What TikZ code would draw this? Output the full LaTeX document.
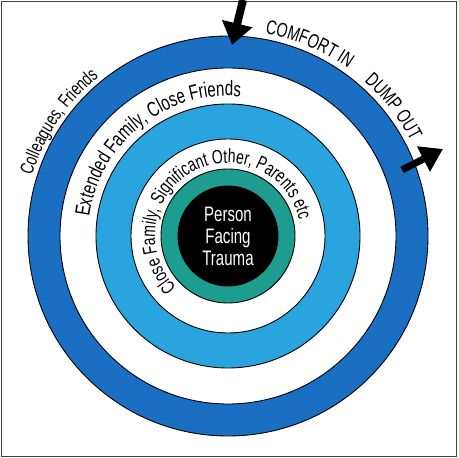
\documentclass[tikz,border=0pt]{standalone}
\usepackage{fontspec}
\setmainfont{Liberation Sans}[FakeStretch=0.72]
\usepackage{tikz}
\usetikzlibrary{arrows.meta,calc,positioning,decorations.text}

\definecolor{ringdark}{HTML}{1B6FC3}
\definecolor{ringlight}{HTML}{2AA4DF}
\definecolor{ringteal}{HTML}{1C9D90}

\begin{document}
\begin{tikzpicture}[x=1bp, y=1bp, line cap=round,
    ring/.style={draw=black, line width=0.9bp},
    bigarrow/.style={-{Triangle[length=22bp, width=30bp]}, line width=8bp, line cap=butt},
    curved/.style={decorate, decoration={text along path, text align=center, text={#1}}}]
  \useasboundingbox (0,0) rectangle (458,458);
  \coordinate (c) at (228,222);
  % frame
  \draw[black!75, line width=1.3bp] (1.5,1.5) rectangle (456.5,456.5);
  % rings, outside in
  \filldraw[ring, fill=ringdark] (c) circle[radius=200];
  \filldraw[ring, fill=white] (c) circle[radius=168];
  \filldraw[ring, fill=ringlight] (c) circle[radius=132];
  \filldraw[ring, fill=white] (c) circle[radius=97];
  \filldraw[ring, fill=ringteal] (c) circle[radius=67];
  \filldraw[ring, fill=black] (c) circle[radius=50];
  \node[white, align=center, font=\fontsize{21}{22}\selectfont] (core) at (c) {Person\\Facing\\Trauma};
  % text round the rings
  \path[curved={|\fontsize{19}{19}\selectfont|Colleagues, Friends}] (c) ++(206:205) arc[start angle=206, end angle=86, radius=205];
  \path[curved={|\fontsize{21}{21}\selectfont|Extended Family, Close Friends}] (c) ++(218:140) arc[start angle=218, end angle=39, radius=140];
  \path[curved={|\fontsize{19.5}{19.5}\selectfont|Close Family, Significant Other, Parents etc}] (c) ++(250:73) arc[start angle=250, end angle=-12, radius=73];
  \path[curved={|\fontsize{20}{20}\selectfont|COMFORT IN}] (c) ++(107:206) arc[start angle=107, end angle=27, radius=206];
  \path[curved={|\fontsize{20}{20}\selectfont|DUMP OUT}] (c) ++(78:206) arc[start angle=78, end angle=-2, radius=206];
  % comfort goes in, dumping goes out
  \coordinate (inTail) at (243,458);
  \coordinate (inTip) at (232,413);
  \coordinate (outTail) at (402,288);
  \coordinate (outTip) at (443,309);
  \draw[bigarrow] (inTail) -- (inTip);
  \draw[bigarrow, line width=7bp, -{Triangle[length=22bp, width=27bp]}] (outTail) -- (outTip);
\end{tikzpicture}
\end{document}
